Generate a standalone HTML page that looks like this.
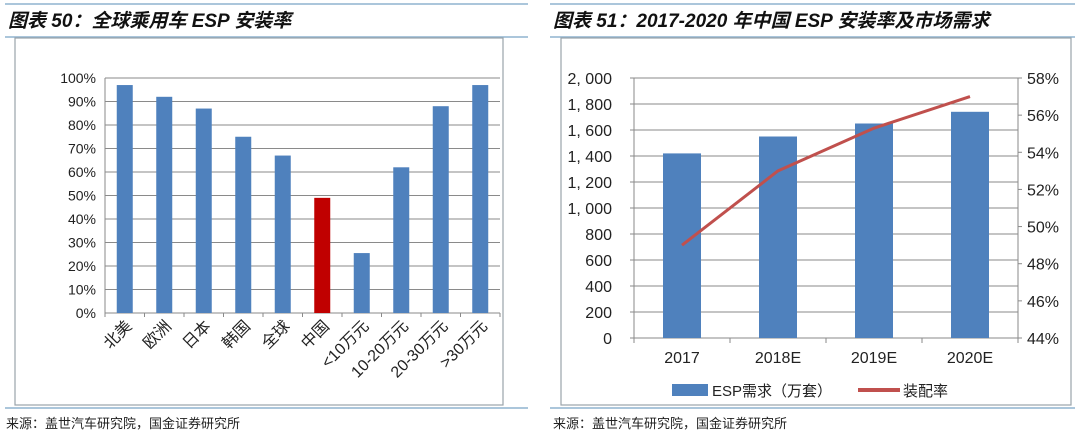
<!DOCTYPE html>
<html><head><meta charset="utf-8"><style>
body{margin:0;background:#fff;width:1080px;height:434px;overflow:hidden;font-family:"Liberation Sans","Noto Sans CJK SC",sans-serif}
svg{position:absolute;left:0;top:0}
</style></head><body>
<svg width="1080" height="434" id="svg">
<g>
<line x1="5" y1="4" x2="528" y2="4" stroke="#8fb3cf" stroke-width="1.5"/>
<line x1="5" y1="37" x2="528" y2="37" stroke="#8fb3cf" stroke-width="1.5"/>
<rect x="15" y="38" width="488" height="367" fill="none" stroke="#9aa3aa" stroke-width="1.2"/>
<line x1="5" y1="408" x2="528" y2="408" stroke="#8fb3cf" stroke-width="1.5"/>
<text x="8" y="27" font-size="19" font-weight="bold" font-style="italic" fill="#111">图表 50：全球乘用车 ESP 安装率</text>
<text x="6" y="428" font-size="13" fill="#222">来源：盖世汽车研究院，国金证券研究所</text>
</g>
<g>
<line x1="550" y1="4" x2="1075" y2="4" stroke="#8fb3cf" stroke-width="1.5"/>
<line x1="550" y1="37" x2="1075" y2="37" stroke="#8fb3cf" stroke-width="1.5"/>
<rect x="561" y="38" width="510" height="367" fill="none" stroke="#9aa3aa" stroke-width="1.2"/>
<line x1="550" y1="408" x2="1075" y2="408" stroke="#8fb3cf" stroke-width="1.5"/>
<text x="553" y="27" font-size="19" font-weight="bold" font-style="italic" fill="#111">图表 51：2017-2020 年中国 ESP 安装率及市场需求</text>
<text x="553" y="428" font-size="13" fill="#222">来源：盖世汽车研究院，国金证券研究所</text>
</g>
<g id="c1"></g><g id="c2"></g>
</svg>
<script>
const cats1 = ['北美','欧洲','日本','韩国','全球','中国','<10万元','10-20万元','20-30万元','>30万元'];
const vals1 = [97,92,87,75,67,49,25.5,62,88,97];
const ticks1 = [0,10,20,30,40,50,60,70,80,90,100];
const cats2 = ['2017','2018E','2019E','2020E'];
const demand2 = [1420,1550,1650,1740];
const rate2 = [49,53,55.3,57];
const ticksL2 = [0,200,400,600,800,1000,1200,1400,1600,1800,2000];
const ticksR2 = [44,46,48,50,52,54,56,58];
const NS='http://www.w3.org/2000/svg';
function mk(p,t,a,txt){const e=document.createElementNS(NS,t);for(const k in a)e.setAttribute(k,a[k]);if(txt!=null)e.textContent=txt;p.appendChild(e);return e;}
// chart 1
const c1=document.getElementById('c1');
const x0=105,x1=500,y0=313,yT=78;
const y1f=v=>y0-(v/100)*(y0-yT);
const bw1=(x1-x0)/cats1.length;
ticks1.forEach(t=>{
 const y=y1f(t);
 const g=mk(c1,'line',{x1:x0,x2:x1,y1:y,y2:y,stroke:'#8a8a8a','stroke-width':1});
 
 
 const l=mk(c1,'text',{x:96,y:y+5,'font-size':14,'text-anchor':'end',fill:'#222'},t+'%');
 
 
});
mk(c1,'line',{x1:x0,x2:x0,y1:yT,y2:y0+4,stroke:'#8a8a8a'});
cats1.forEach((c,i)=>{
 const cx=x0+bw1*(i+0.5);
 const b=mk(c1,'rect',{x:cx-8,y:y1f(vals1[i]),width:16,height:y0-y1f(vals1[i]),fill:c==='中国'?'#c00000':'#4f81bd'});
 
 
 const tx=x0+bw1*(i+1);
 mk(c1,'line',{x1:tx,x2:tx,y1:y0,y2:y0+4,stroke:'#8a8a8a'});
 const l=mk(c1,'text',{x:cx+8,y:y0+14,'font-size':16,'text-anchor':'end',fill:'#222',transform:`rotate(-45 ${cx+8} ${y0+14})`},c);
 
 
});
// chart 2
const c2=document.getElementById('c2');
const X0=634,X1=1018,Y0=338,YT=78;
const yl=v=>Y0-(v/2000)*(Y0-YT);
const yr=v=>Y0-((v-44)/14)*(Y0-YT);
const bw2=(X1-X0)/cats2.length;
ticksL2.forEach(t=>{
 const y=yl(t);
 const g=mk(c2,'line',{x1:X0,x2:X1,y1:y,y2:y,stroke:'#8a8a8a'});
 
 
 mk(c2,'line',{x1:X0-4,x2:X0,y1:y,y2:y,stroke:'#8a8a8a'});
 const l=mk(c2,'text',{x:612,y:y+6,'font-size':16,'text-anchor':'end',fill:'#222'},t.toLocaleString('en-US').replace(',',', '));
 
 
});
ticksR2.forEach(t=>{
 const y=yr(t);
 mk(c2,'line',{x1:X1,x2:X1+4,y1:y,y2:y,stroke:'#8a8a8a'});
 const l=mk(c2,'text',{x:1027,y:y+6,'font-size':16,fill:'#222'},t+'%');
 
 
});
mk(c2,'line',{x1:X0,x2:X0,y1:YT,y2:Y0,stroke:'#8a8a8a'});
mk(c2,'line',{x1:X1,x2:X1,y1:YT,y2:Y0,stroke:'#8a8a8a'});
let pts=[];
cats2.forEach((c,i)=>{
 const cx=X0+bw2*(i+0.5);
 const b=mk(c2,'rect',{x:cx-19,y:yl(demand2[i]),width:38,height:Y0-yl(demand2[i]),fill:'#4f81bd'});
 
 
 mk(c2,'line',{x1:X0+bw2*i,x2:X0+bw2*i,y1:Y0,y2:Y0+5,stroke:'#8a8a8a'});
 const l=mk(c2,'text',{x:cx,y:Y0+25,'font-size':16,'text-anchor':'middle',fill:'#222'},c);
 
 
 pts.push(cx+','+yr(rate2[i]));
});
mk(c2,'line',{x1:X1,x2:X1,y1:Y0,y2:Y0+5,stroke:'#8a8a8a'});
const ln=mk(c2,'polyline',{points:pts.join(' '),fill:'none',stroke:'#c0504d','stroke-width':3,'stroke-linejoin':'round'});


const lg=mk(c2,'g',{});


mk(lg,'rect',{x:672,y:384,width:36,height:12,fill:'#4f81bd'});
mk(lg,'text',{x:712,y:396,'font-size':15,fill:'#222'},'ESP需求（万套）');
mk(lg,'line',{x1:858,x2:900,y1:390,y2:390,stroke:'#c0504d','stroke-width':4});
mk(lg,'text',{x:903,y:396,'font-size':15,fill:'#222'},'装配率');
</script>
</body></html>
